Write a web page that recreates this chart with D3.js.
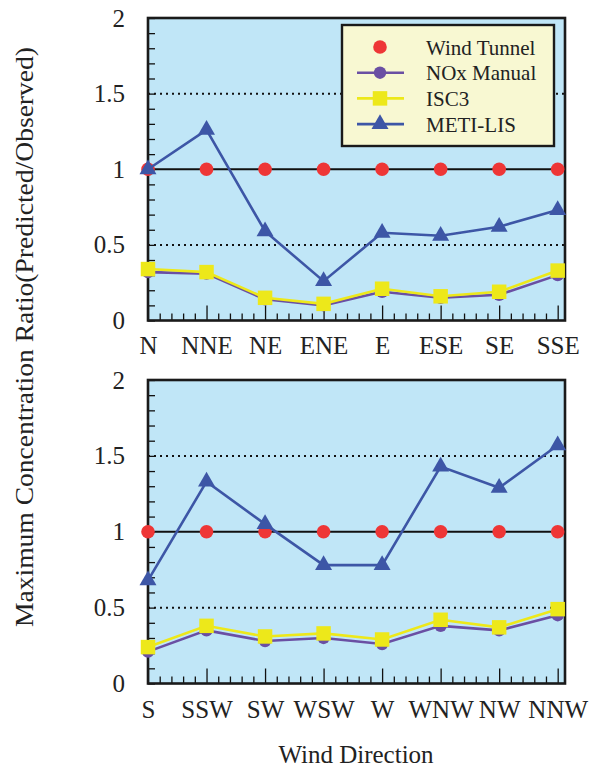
<!DOCTYPE html>
<html>
<head>
<meta charset="utf-8">
<script src="https://cdn.jsdelivr.net/npm/d3@7"></script>
</head>
<body style="margin:0">
<div id="canvas"></div>
<script>
const dirsTop = ["N", "NNE", "NE", "ENE", "E", "ESE", "SE", "SSE"];
const dirsBottom = ["S", "SSW", "SW", "WSW", "W", "WNW", "NW", "NNW"];

const tunnelTop = [1, 1, 1, 1, 1, 1, 1, 1];
const noxTop = [0.32, 0.31, 0.14, 0.10, 0.19, 0.15, 0.17, 0.30];
const isc3Top = [0.34, 0.32, 0.15, 0.11, 0.21, 0.16, 0.19, 0.33];
const metiTop = [1.00, 1.26, 0.59, 0.26, 0.58, 0.56, 0.62, 0.73];

const tunnelBottom = [1, 1, 1, 1, 1, 1, 1, 1];
const noxBottom = [0.21, 0.35, 0.28, 0.30, 0.26, 0.38, 0.35, 0.45];
const isc3Bottom = [0.24, 0.38, 0.31, 0.33, 0.29, 0.42, 0.37, 0.49];
const metiBottom = [0.68, 1.33, 1.05, 0.78, 0.78, 1.43, 1.29, 1.57];

const yLabels = [0, 0.5, 1, 1.5, 2];
const legendNames = ["Wind Tunnel", "NOx Manual", "ISC3", "METI-LIS"];

const W = 597, H = 769;
const left = 148, right = 565;
const face = "Liberation Serif";

const svg = d3.select("#canvas")
    .append("svg")
    .attr("width", W)
    .attr("height", H);

svg.append("style")
    .text("text { font-family: 'Liberation Serif', 'Times New Roman', serif !important; }");

const styles = [
    { color: "#ee3636", line: false, symbol: d3.symbolCircle, size: 145 },
    { color: "#6a4fa3", line: true, symbol: d3.symbolCircle, size: 120 },
    { color: "#ede81a", line: true, symbol: d3.symbolSquare, size: 210 },
    { color: "#3d56a6", line: true, symbol: d3.symbolTriangle, size: 125 }
];

function panel(top, bottom, cats, series, labelPad, legend) {
    const x = d3.scaleLinear().domain([0, 7.125]).range([left, right]);
    const y = d3.scaleLinear().domain([0, 2]).range([bottom, top]);
    const g = svg.append("g");

    g.append("rect")
        .attr("x", left).attr("y", top)
        .attr("width", right - left).attr("height", bottom - top)
        .attr("fill", "#c0e6f7");

    // dotted lines at 0.5 and 1.5, solid at 1
    [0.5, 1.5].forEach(v => {
        g.append("line")
            .attr("x1", left).attr("x2", right)
            .attr("y1", y(v)).attr("y2", y(v))
            .attr("stroke", "#111").attr("stroke-width", 2)
            .attr("stroke-dasharray", "2,4");
    });
    g.append("line")
        .attr("x1", left).attr("x2", right)
        .attr("y1", y(1)).attr("y2", y(1))
        .attr("stroke", "#111").attr("stroke-width", 2.2);

    // minor y ticks
    g.append("g")
        .attr("transform", `translate(${left},0)`)
        .call(d3.axisLeft(y).ticks(20).tickSize(-7).tickFormat(""))
        .call(a => a.select(".domain").remove())
        .selectAll("line").attr("stroke", "#111").attr("stroke-width", 1.3);

    // y labels
    const ya = g.append("g")
        .attr("transform", `translate(${left},0)`)
        .call(d3.axisLeft(y).tickValues(yLabels).tickSize(0).tickPadding(23).tickFormat(d => String(d)));
    ya.select(".domain").remove();
    ya.attr("font-size", 25).attr("font-family", face);
    ya.selectAll("text").attr("fill", "#222").attr("font-family", face);

    // minor x ticks
    const minor = d3.range(0, 36).map(i => i / 5).filter(v => Math.abs(v - Math.round(v)) > 0.01);
    g.append("g")
        .attr("transform", `translate(0,${bottom})`)
        .call(d3.axisBottom(x).tickValues(minor).tickSize(-7).tickFormat(""))
        .call(a => a.select(".domain").remove())
        .selectAll("line").attr("stroke", "#111").attr("stroke-width", 1.3);

    // major x ticks with labels
    const xa = g.append("g")
        .attr("transform", `translate(0,${bottom})`)
        .call(d3.axisBottom(x).tickValues(d3.range(8)).tickSize(-15).tickPadding(labelPad)
            .tickFormat(i => cats[i]));
    xa.select(".domain").remove();
    xa.attr("font-size", 25).attr("font-family", face);
    xa.selectAll("line").attr("stroke", "#111").attr("stroke-width", 1.3);
    xa.selectAll("text").attr("fill", "#222").attr("font-family", face);

    // frame
    g.append("rect")
        .attr("x", left).attr("y", top)
        .attr("width", right - left).attr("height", bottom - top)
        .attr("fill", "none")
        .attr("stroke", "#1a1a1a").attr("stroke-width", 2.6);

    // series
    series.forEach((vals, k) => {
        const s = styles[k];
        if (s.line) {
            g.append("path")
                .datum(vals)
                .attr("fill", "none")
                .attr("stroke", s.color)
                .attr("stroke-width", 2.6)
                .attr("d", d3.line().x((d, i) => x(i)).y(d => y(d)));
        }
        g.append("g")
            .selectAll("path")
            .data(vals)
            .join("path")
            .attr("transform", (d, i) => `translate(${x(i)},${y(d)})`)
            .attr("d", d3.symbol().type(s.symbol).size(s.size))
            .attr("fill", s.color);
    });

    if (legend) {
        const lg = g.append("g");
        lg.append("rect")
            .attr("x", 342).attr("y", 25)
            .attr("width", 212).attr("height", 121)
            .attr("fill", "#f8f8d2")
            .attr("stroke", "#1a1a1a").attr("stroke-width", 2.4);
        legendNames.forEach((name, k) => {
            const s = styles[k];
            const cy = 47 + k * 25.7;
            if (s.line) {
                lg.append("line")
                    .attr("x1", 357).attr("x2", 404)
                    .attr("y1", cy).attr("y2", cy)
                    .attr("stroke", s.color).attr("stroke-width", 2.6);
            }
            lg.append("path")
                .attr("transform", `translate(380,${cy})`)
                .attr("d", d3.symbol().type(s.symbol).size(s.size))
                .attr("fill", s.color);
            lg.append("text")
                .attr("x", 426).attr("y", cy + 7.5)
                .attr("font-family", face)
                .attr("font-size", 21)
                .attr("fill", "#222")
                .text(name);
        });
    }
}

panel(18, 320.5, dirsTop, [tunnelTop, noxTop, isc3Top, metiTop], 16, true);
panel(380, 683.5, dirsBottom, [tunnelBottom, noxBottom, isc3Bottom, metiBottom], 17, false);

svg.append("text")
    .attr("transform", "translate(33,337) rotate(-90)")
    .attr("text-anchor", "middle")
    .attr("font-family", face)
    .attr("font-size", 25)
    .attr("fill", "#222")
    .attr("textLength", 580)
    .attr("lengthAdjust", "spacingAndGlyphs")
    .text("Maximum Concentration Ratio(Predicted/Observed)");

svg.append("text")
    .attr("x", 356).attr("y", 763)
    .attr("text-anchor", "middle")
    .attr("font-family", face)
    .attr("font-size", 25)
    .attr("fill", "#222")
    .text("Wind Direction");
</script>
</body>
</html>
